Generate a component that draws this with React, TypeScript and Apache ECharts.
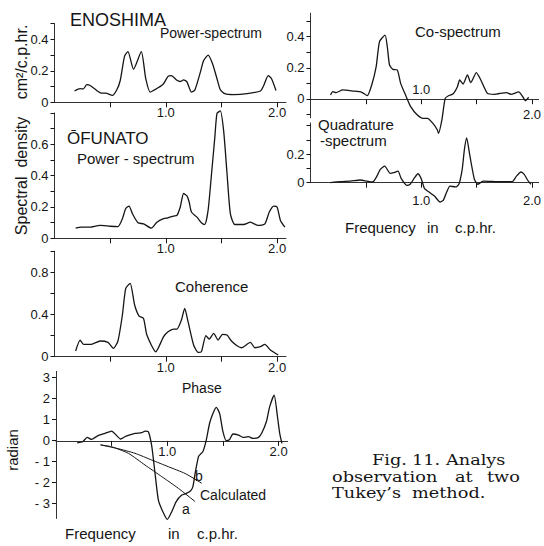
import React, { useEffect, useRef } from "react";
import * as echarts from "echarts";

// ---------- data (frequency in c.p.hr., value) ----------
const enoshimaPower: [number, number][] = [
  [0.18, 0.072], [0.23, 0.087], [0.26, 0.085], [0.29, 0.112], [0.32, 0.107], [0.38, 0.075],
  [0.42, 0.058], [0.46, 0.058], [0.52, 0.044], [0.56, 0.08], [0.59, 0.137], [0.63, 0.295],
  [0.66, 0.322], [0.71, 0.21], [0.78, 0.322], [0.82, 0.15], [0.86, 0.065], [0.93, 0.092],
  [0.98, 0.118], [1.02, 0.165], [1.05, 0.17], [1.1, 0.14], [1.13, 0.132], [1.16, 0.142],
  [1.19, 0.13], [1.23, 0.065], [1.26, 0.076], [1.31, 0.19], [1.34, 0.265], [1.38, 0.3],
  [1.42, 0.245], [1.46, 0.15], [1.49, 0.08], [1.53, 0.055], [1.61, 0.049], [1.73, 0.055],
  [1.85, 0.072], [1.88, 0.107], [1.92, 0.17], [1.95, 0.15], [1.99, 0.075],
];

const ofunatoPower: [number, number][] = [
  [0.19, 0.065], [0.24, 0.071], [0.31, 0.071], [0.41, 0.082], [0.5, 0.077], [0.57, 0.075],
  [0.61, 0.125], [0.64, 0.19], [0.67, 0.206], [0.7, 0.157], [0.75, 0.099], [0.8, 0.092],
  [0.87, 0.065], [0.92, 0.103], [0.98, 0.125], [1.02, 0.131], [1.07, 0.142], [1.1, 0.146],
  [1.13, 0.2], [1.16, 0.286], [1.19, 0.271], [1.21, 0.232], [1.23, 0.168], [1.28, 0.135],
  [1.32, 0.099], [1.35, 0.088], [1.38, 0.178], [1.41, 0.404], [1.44, 0.641], [1.46, 0.798],
  [1.49, 0.813], [1.52, 0.684], [1.55, 0.415], [1.58, 0.157], [1.62, 0.088], [1.7, 0.088],
  [1.76, 0.103], [1.83, 0.082], [1.89, 0.092], [1.93, 0.168], [1.97, 0.206], [2.0, 0.2],
  [2.03, 0.114], [2.07, 0.071],
];

const coherence: [number, number][] = [
  [0.19, 0.054], [0.23, 0.158], [0.26, 0.117], [0.33, 0.117], [0.41, 0.149], [0.48, 0.136],
  [0.53, 0.079], [0.57, 0.149], [0.61, 0.395], [0.64, 0.648], [0.68, 0.695], [0.72, 0.49],
  [0.76, 0.385], [0.8, 0.363], [0.83, 0.205], [0.91, 0.047], [0.98, 0.19], [1.02, 0.237],
  [1.07, 0.262], [1.1, 0.262], [1.14, 0.347], [1.17, 0.458], [1.2, 0.332], [1.25, 0.111],
  [1.29, 0.041], [1.32, 0.047], [1.36, 0.199], [1.39, 0.168], [1.43, 0.221], [1.47, 0.158],
  [1.51, 0.212], [1.55, 0.205], [1.59, 0.149], [1.64, 0.104], [1.68, 0.085], [1.76, 0.136],
  [1.8, 0.085], [1.85, 0.095], [1.89, 0.117], [1.94, 0.063], [2.01, 0.016],
];

const phase: [number, number][] = [
  [0.19, -0.1], [0.24, -0.05], [0.28, 0.16], [0.32, 0.06], [0.37, 0.22], [0.44, 0.35],
  [0.5, 0.46], [0.54, 0.27], [0.58, 0.08], [0.63, 0.22], [0.71, 0.35], [0.77, 0.38],
  [0.8, 0.46], [0.83, 0.43], [0.86, -0.25], [0.89, -1.56], [0.92, -2.83], [0.96, -3.38],
  [1.0, -3.75], [1.04, -3.38], [1.08, -2.9], [1.13, -2.59], [1.17, -2.51], [1.21, -2.38],
  [1.23, -2.19], [1.25, -1.56], [1.28, -0.76], [1.3, -0.63], [1.32, -0.52], [1.35, 0.03],
  [1.38, 0.83], [1.41, 1.3], [1.44, 1.59], [1.47, 1.3], [1.5, 0.43], [1.53, 0.0],
  [1.56, 0.06], [1.59, 0.32], [1.64, 0.27], [1.68, 0.16], [1.73, 0.19], [1.77, 0.11],
  [1.82, 0.16], [1.85, 0.38], [1.89, 0.9], [1.92, 1.62], [1.96, 2.17], [1.99, 1.14],
  [2.01, 0.35], [2.03, -0.13],
];

const calculatedA: [number, number][] = [
  [0.4, -0.2], [0.5, -0.29], [0.65, -0.6], [0.8, -1.16], [0.95, -1.71], [1.1, -2.27], [1.25, -2.9],
];

const calculatedB: [number, number][] = [
  [0.4, -0.2], [0.55, -0.37], [0.71, -0.6], [0.86, -0.92], [1.01, -1.24], [1.16, -1.56], [1.31, -2.03],
];

const coSpectrum: [number, number][] = [
  [0.18, 0.026], [0.2, 0.047], [0.23, 0.041], [0.29, 0.058], [0.38, 0.051], [0.46, 0.043],
  [0.51, 0.021], [0.55, 0.09], [0.59, 0.207], [0.62, 0.368], [0.67, 0.41], [0.69, 0.335],
  [0.71, 0.218], [0.74, 0.19], [0.78, 0.186], [0.81, 0.1], [0.86, 0.015], [0.9, -0.049],
  [0.96, -0.103], [1.01, -0.124], [1.05, -0.124], [1.1, -0.156], [1.14, -0.199], [1.15, -0.22],
  [1.18, -0.135], [1.21, 0.004], [1.24, 0.021], [1.28, 0.032], [1.32, 0.079], [1.34, 0.122],
  [1.37, 0.096], [1.41, 0.154], [1.44, 0.105], [1.49, 0.169], [1.53, 0.122], [1.59, 0.036],
  [1.65, 0.03], [1.76, 0.041], [1.8, 0.03], [1.87, 0.045], [1.91, 0.011], [1.93, -0.011],
  [1.96, 0.011],
];

const quadSpectrum: [number, number][] = [
  [0.18, 0], [0.27, 0.007], [0.36, 0.011], [0.45, 0.019], [0.51, 0.011], [0.56, 0.005],
  [0.6, 0.046], [0.63, 0.094], [0.67, 0.116], [0.72, 0.065], [0.75, 0.07], [0.79, 0.081],
  [0.82, 0.028], [0.87, -0.019], [0.9, -0.011], [0.94, 0.035], [0.97, 0.063], [1.0, 0.028],
  [1.03, -0.042], [1.07, -0.065], [1.12, -0.094], [1.17, -0.136], [1.2, -0.122], [1.23, -0.065],
  [1.26, -0.024], [1.31, -0.03], [1.34, -0.011], [1.37, 0.094], [1.39, 0.234], [1.41, 0.315],
  [1.44, 0.186], [1.48, 0.024], [1.51, -0.011], [1.56, 0.011], [1.72, 0.007], [1.82, 0.007],
  [1.86, 0.046], [1.9, 0.075], [1.93, 0.059], [1.96, 0.019], [1.99, -0.011],
];

// ---------- tick / label values ----------
const freqTicks = [0.5, 1.0, 1.5, 2.0];
const freqLabels = [1.0, 2.0];
const enoTicks = [0, 0.1, 0.2, 0.3, 0.4, 0.5];
const enoLabels = [0, 0.2, 0.4];
const ofuTicks = [0, 0.1, 0.2, 0.3, 0.4, 0.5, 0.6, 0.7, 0.8];
const ofuLabels = [0, 0.2, 0.4, 0.6];
const cohTicks = [0, 0.2, 0.4, 0.6, 0.8, 1.0];
const cohLabels = [0, 0.4, 0.8];
const phaseTicks = [-3, -2, -1, 0, 1, 2, 3];
const coTicks = [-0.1, 0, 0.1, 0.2, 0.3, 0.4, 0.5];
const coLabels = [0, 0.2, 0.4];
const quadTicks = [0, 0.1, 0.2, 0.3, 0.4];
const quadLabels = [0, 0.2];

const INK = "#151515";
const SANS = "Liberation Sans";
const SERIF = "DejaVu Serif";

const fmt = (v: number) => (v === 0 ? "0" : v.toFixed(1));
const fmtPhase = (v: number) => (v < 0 ? "- " + Math.abs(v) : String(v));

function xAxisDef(gridIndex: number, max: number, ticks: number[], labels: number[], margin: number, extra: any = {}) {
  return {
    type: "value",
    gridIndex,
    min: 0,
    max,
    splitLine: { show: false },
    axisLine: { show: true, onZero: false, lineStyle: { color: "#333", width: 1 } },
    axisTick: { show: true, length: 5, customValues: ticks, lineStyle: { color: INK } },
    axisLabel: {
      show: true,
      customValues: labels,
      margin,
      formatter: fmt,
      color: INK,
      fontSize: 13,
      fontFamily: SANS,
    },
    ...extra,
  };
}

function yAxisDef(gridIndex: number, min: number, max: number, ticks: number[], labels: number[], formatter = fmt) {
  return {
    type: "value",
    gridIndex,
    min,
    max,
    splitLine: { show: false },
    axisLine: { show: true, onZero: false, lineStyle: { color: "#333", width: 1 } },
    axisTick: { show: true, length: 4, customValues: ticks, lineStyle: { color: INK } },
    axisLabel: {
      show: true,
      customValues: labels,
      margin: 6,
      formatter,
      color: INK,
      fontSize: 13,
      fontFamily: SANS,
    },
  };
}

function hiddenAxis(gridIndex: number, max: number) {
  return { type: "value", gridIndex, min: 0, max, show: false, splitLine: { show: false } };
}

function lineSeries(data: [number, number][], xi: number, yi: number, width = 1.3) {
  return {
    type: "line",
    xAxisIndex: xi,
    yAxisIndex: yi,
    data,
    showSymbol: false,
    symbol: "none",
    smooth: 0.2,
    clip: false,
    silent: true,
    lineStyle: { color: INK, width },
  };
}

function txt(text: string, x: number, y: number, size: number, extra: any = {}, family = SANS) {
  return {
    type: "text",
    x,
    y,
    silent: true,
    ...extra,
    style: {
      text,
      fill: INK,
      fontSize: size,
      fontFamily: family,
      textAlign: "left",
      textVerticalAlign: "middle",
      ...(extra.style || {}),
    },
  };
}

const cap = (text: string, x: number, y: number) =>
  txt(text, x, y, 15, { scaleX: 1.18 }, SERIF);

export default function App() {
  const ref = useRef<HTMLDivElement>(null);

  useEffect(() => {
    if (!ref.current) return;
    const chart = echarts.init(ref.current, undefined, { renderer: "svg" });
    const option: any = {
      animation: false,
      backgroundColor: "#ffffff",
      grid: [
        { left: 54.5, top: 23.6, width: 231.5, height: 78.7, containLabel: false },
        { left: 54.5, top: 113, width: 231.5, height: 125.3, containLabel: false },
        { left: 54.5, top: 251.2, width: 231.5, height: 105.5, containLabel: false },
        { left: 56, top: 371.4, width: 231.5, height: 147, containLabel: false },
        { left: 310.5, top: 13.2, width: 229.3, height: 104.5, containLabel: false },
        { left: 310.5, top: 122.9, width: 229.3, height: 59.8, containLabel: false },
        // zero-line strips for the phase and co-spectrum frequency axes
        { left: 56, top: 440.4, width: 231.5, height: 0.5, containLabel: false },
        { left: 310.5, top: 98.8, width: 229.3, height: 0.4, containLabel: false },
      ],
      xAxis: [
        xAxisDef(0, 2.08, freqTicks, freqLabels, 4),
        xAxisDef(1, 2.08, freqTicks, freqLabels, 4),
        xAxisDef(2, 2.08, freqTicks, freqLabels, 4),
        hiddenAxis(3, 2.08),
        hiddenAxis(4, 2.06),
        xAxisDef(5, 2.06, freqTicks, freqLabels, 11),
        xAxisDef(6, 2.08, freqTicks, freqLabels, 4),
        xAxisDef(7, 2.06, freqTicks, [2.0], 9),
        xAxisDef(7, 2.06, [], [1.0], 3, {
          position: "top",
          axisLine: { show: false },
          axisTick: { show: false },
        }),
      ],
      yAxis: [
        yAxisDef(0, 0, 0.5, enoTicks, enoLabels),
        yAxisDef(1, 0, 0.8, ofuTicks, ofuLabels),
        yAxisDef(2, 0, 1.0, cohTicks, cohLabels),
        yAxisDef(3, -3.7, 3.3, phaseTicks, phaseTicks, fmtPhase),
        yAxisDef(4, -0.12, 0.55, coTicks, coLabels),
        yAxisDef(5, 0, 0.42, quadTicks, quadLabels),
        hiddenAxis(6, 1),
        hiddenAxis(7, 1),
      ],
      series: [
        lineSeries(enoshimaPower, 0, 0),
        lineSeries(ofunatoPower, 1, 1),
        lineSeries(coherence, 2, 2),
        lineSeries(phase, 3, 3),
        lineSeries(calculatedA, 3, 3, 1),
        lineSeries(calculatedB, 3, 3, 1),
        lineSeries(coSpectrum, 4, 4),
        lineSeries(quadSpectrum, 5, 5),
      ],
      graphic: [
        txt("ENOSHIMA", 70, 20, 18),
        txt("Power-spectrum", 160, 33, 14),
        txt("ŌFUNATO", 67, 138, 17),
        txt("Power - spectrum", 77, 158, 15),
        txt("Coherence", 175, 286, 15),
        txt("Phase", 182, 388, 14),
        txt("b", 195, 476, 14),
        txt("Calculated", 200, 495, 14),
        txt("a", 182, 509, 14),
        txt("cm²/c.p.hr.", 21, 62, 16, { rotation: Math.PI / 2, style: { textAlign: "center" } }),
        txt("Spectral  density", 21, 176, 16, { rotation: Math.PI / 2, style: { textAlign: "center" } }),
        txt("radian", 12, 450, 15, { rotation: Math.PI / 2, style: { textAlign: "center" } }),
        txt("Frequency", 65, 533, 15),
        txt("in", 168, 533, 15),
        txt("c.p.hr.", 197, 533, 15),
        txt("Co-spectrum", 415, 31, 15),
        txt("Quadrature", 318, 124, 15),
        txt("-spectrum", 320, 140, 15),
        txt("Frequency", 345, 227, 15),
        txt("in", 427, 227, 15),
        txt("c.p.hr.", 455, 227, 15),
        cap("Fig.", 372, 460),
        cap("11.", 412, 460),
        cap("Analys", 446, 460),
        cap("observation", 332, 477),
        cap("at", 455, 477),
        cap("two", 487, 477),
        cap("Tukey’s", 332, 493),
        cap("method.", 412, 493),
      ],
    };
    chart.setOption(option);
    return () => chart.dispose();
  }, []);

  return (
    <div
      ref={ref}
      style={{ position: "fixed", left: 0, top: 0, width: 544, height: 546, background: "#fff" }}
    />
  );
}
